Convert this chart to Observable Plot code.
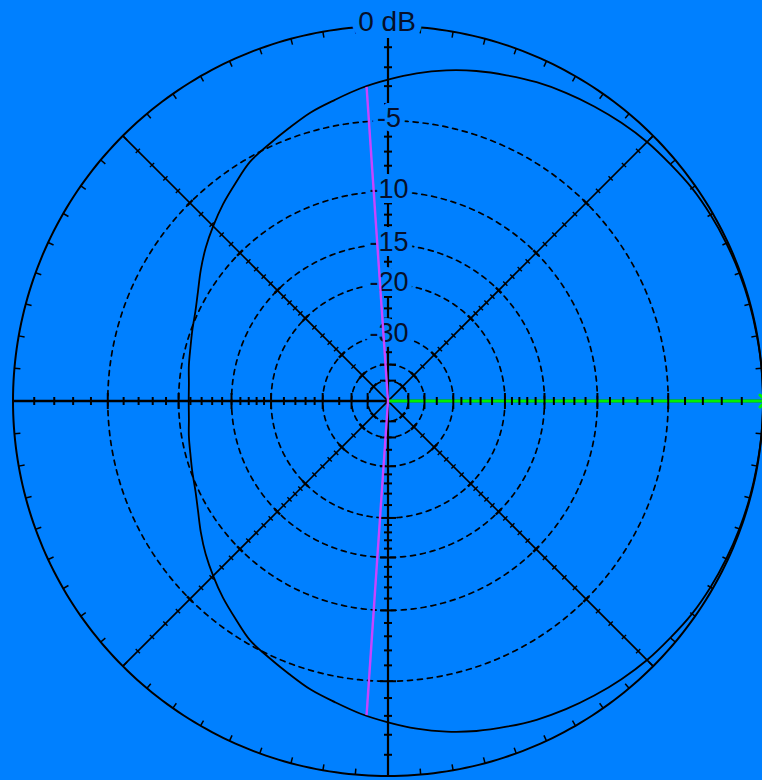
<!DOCTYPE html>
<html><head><meta charset="utf-8">
<script src="https://cdn.jsdelivr.net/npm/d3@7"></script>
<script src="https://cdn.jsdelivr.net/npm/@observablehq/plot@0.6"></script>
<style>
html,body{margin:0;padding:0;background:#0080ff;}
#chart{width:762px;height:780px;overflow:hidden;}
svg{display:block;}
</style></head><body><div id="chart"></div>
<script>
// ---- data ----
const patternAngles = [0,5,10,15,20,25,30,35,40,45,50,55,60,65,70,75,80,85,90,95,100,105,110,115,120,125,130,135,140,145,150,155,160,165,170,175,
  180,185,190,195,200,205,210,215,220,225,230,235,240,245,250,255,260,265,270,275,280,285,290,295,300,305,310,315,320,325,330,335,340,345,350,355];
const patternDb = [0,0,-0.02,-0.03,-0.05,-0.08,-0.12,-0.18,-0.3,-0.4,-0.55,-0.72,-0.9,-1.1,-1.35,-1.6,-1.9,-2.25,-2.65,-3.05,-3.5,-3.9,-4.4,-4.85,-5.25,-5.9,-6.5,-7.15,-7.8,-8.5,-9.2,-9.75,-10.1,-10.4,-10.6,-10.8,
  -10.85,-10.8,-10.6,-10.4,-10.1,-9.75,-9.2,-8.5,-7.8,-7.15,-6.5,-5.9,-5.25,-4.85,-4.4,-3.9,-3.5,-3.05,-2.65,-2.25,-1.9,-1.6,-1.35,-1.1,-0.9,-0.72,-0.55,-0.4,-0.3,-0.18,-0.12,-0.08,-0.05,-0.03,-0.02,0];
const ringLevels = [-5,-10,-15,-20,-30,-40,-50];
const labelLevels = [0,-5,-10,-15,-20,-30];
const labelTexts = ["0 dB","-5","-10","-15","-20","-30"];
const tickLevels = [-1,-2,-3,-4,-5,-6,-7,-8,-9,-10,-11,-12,-13,-14,-15,-16,-17,-18,-19,-20,-22,-24,-26,-28,-30,-35,-40,-50];
const majorLevels = [-5,-10,-15,-20,-30,-40,-50];
const axisAngles = [0,45,90,135,180,225,270,315];
const azimuthTickAngles = d3.range(0,360,5);
const beamAngles = [93.9,266.1];
const beamDb = -3;
const lobeAngle = 0;
const lobeDb = 0;

// ---- ARRL log-periodic radial scale ----
const rad = db => Math.pow(0.89, -db/2);
const px = 1/375; // one pixel in data units
const P = (a, r) => [r*Math.cos(a*Math.PI/180), r*Math.sin(a*Math.PI/180)];

const pattern = patternAngles.map((a,i) => { const [x,y] = P(a, rad(patternDb[i])); return {x,y}; });
const circlePts = (level) => d3.range(0,361,1).map(a => { const [x,y] = P(a, rad(level)); return {x,y,level}; });
const outer = circlePts(0);
const rings = ringLevels.flatMap(circlePts);

const axisTicks = axisAngles.flatMap(a => tickLevels.map(db => {
  const [x,y] = P(a, rad(db));
  const major = majorLevels.includes(db);
  const kind = (a % 180 === 0) ? "h" : (a % 90 === 0 ? "v" : "d");
  const half = (kind === "d" ? (major ? 4 : 3) : (major ? 8 : 4)) * px;
  const nx = -Math.sin(a*Math.PI/180), ny = Math.cos(a*Math.PI/180);
  return {kind, major, x1:x-nx*half, y1:y-ny*half, x2:x+nx*half, y2:y+ny*half};
}));
const outerTicks = azimuthTickAngles.map(a => {
  const [x1,y1] = P(a, 1), [x2,y2] = P(a, 1 - 6*px);
  return {x1,y1,x2,y2};
});
const axes = [0,45,90,135].map(a => {
  const [x1,y1] = P(a+180, 1), [x2,y2] = P(a, 1);
  return {a,x1,y1,x2,y2};
});
const beams = beamAngles.map(a => { const [x,y] = P(a, rad(beamDb)); return {x,y}; });
const lobe = [(() => { const [x,y] = P(lobeAngle, rad(lobeDb)); return {x,y}; })()];
const labels = labelLevels.map((db,i) => ({x:0, y:rad(db), text:labelTexts[i], top: db === 0}));

const ink = "#000";
const bg = "#0080ff";

const chart = Plot.plot({
  width: 762, height: 780,
  marginTop: 0, marginRight: 0, marginBottom: 0, marginLeft: 0,
  x: {domain: [-1,1], range: [12.5,762.5], axis: null},
  y: {domain: [-1,1], range: [775.5,25.5], axis: null},
  style: {background: bg, overflow: "visible"},
  marks: [
    Plot.line(rings, {x:"x", y:"y", z:"level", stroke: ink, strokeWidth: 1.7, strokeDasharray: "5,5"}),
    Plot.link(axes.filter(d => d.a === 0), {x1:"x1", y1:"y1", x2:"x2", y2:"y2", stroke: ink, strokeWidth: 2.6}),
    Plot.link(axes.filter(d => d.a === 90), {x1:"x1", y1:"y1", x2:"x2", y2:"y2", stroke: ink, strokeWidth: 2.2}),
    Plot.link(axes.filter(d => d.a % 90 !== 0), {x1:"x1", y1:"y1", x2:"x2", y2:"y2", stroke: ink, strokeWidth: 1.6}),
    Plot.line(outer, {x:"x", y:"y", stroke: ink, strokeWidth: 2}),
    Plot.link(outerTicks, {x1:"x1", y1:"y1", x2:"x2", y2:"y2", stroke: ink, strokeWidth: 1.5}),
    Plot.line(pattern, {x:"x", y:"y", curve: "catmull-rom-closed", stroke: ink, strokeWidth: 1.8}),
    Plot.link(lobe, {x1: () => 0, y1: () => 0, x2:"x", y2:"y", stroke: "#00f000", strokeWidth: 3, markerEnd: "arrow-reverse"}),
    Plot.link(axisTicks.filter(d => d.kind !== "d"), {x1:"x1", y1:"y1", x2:"x2", y2:"y2", stroke: ink, strokeWidth: 2}),
    Plot.link(axisTicks.filter(d => d.kind === "d"), {x1:"x1", y1:"y1", x2:"x2", y2:"y2", stroke: ink, strokeWidth: d => d.major ? 2.4 : 1.4}),
    Plot.text(labels.filter(d => !d.top), {x:"x", y:"y", text:"text", dx: 1, dy: -2, fontSize: 27,
      fontFamily: "Liberation Sans, Arial, sans-serif", fill: "#06102a", stroke: bg, strokeWidth: 10, lineAnchor: "middle"}),
    Plot.text(labels.filter(d => d.top), {x:"x", y:"y", text:"text", dx: -1, dy: -4, fontSize: 28,
      fontFamily: "Liberation Sans, Arial, sans-serif", fill: "#06102a", stroke: bg, strokeWidth: 14, lineAnchor: "middle"}),
    Plot.link(beams, {x1: () => 0, y1: () => 0, x2:"x", y2:"y", stroke: "#c844ff", strokeWidth: 2.4})
  ]
});
document.getElementById("chart").appendChild(chart);
</script>
</body></html>
